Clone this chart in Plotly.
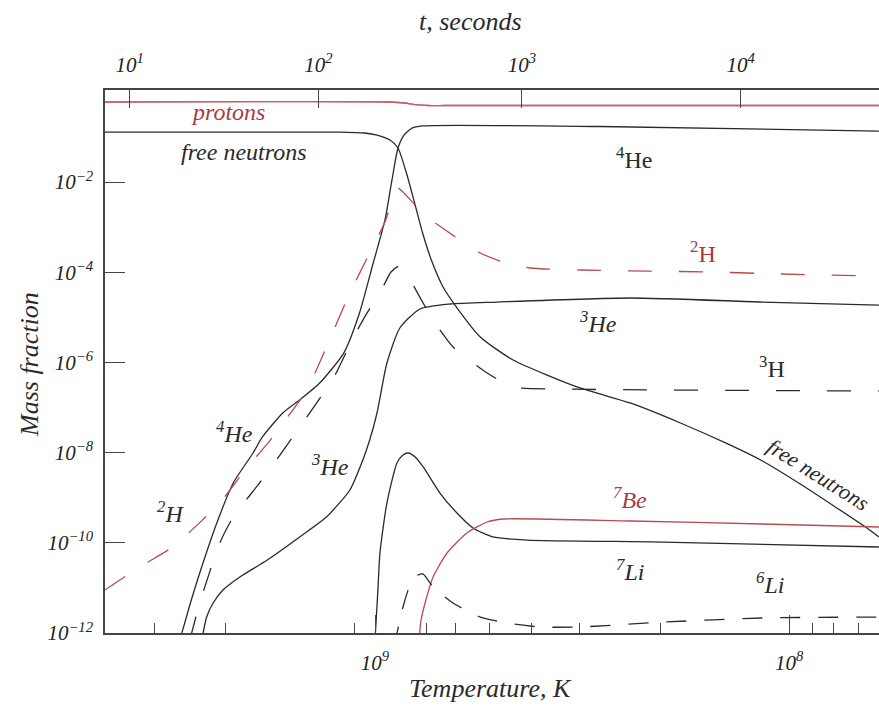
import plotly.graph_objects as go

# ---------------- data (temperature in K, mass fraction) ----------------
protons_T = [4.49e9, 9.2e8, 8.47e8, 8.0e8, 7.45e8, 6.78e8, 6.07e7]
protons_X = [0.594, 0.594, 0.565, 0.522, 0.497, 0.497, 0.497]

neutrons_T = [4.49e9, 1.22e9, 1.06e9, 9.89e8, 9.20e8, 8.80e8, 8.37e8, 8.00e8, 7.65e8, 7.28e8,
              6.85e8, 6.41e8, 5.57e8, 4.64e8, 3.20e8, 2.42e8, 1.83e8, 1.39e8, 1.16e8, 9.40e7,
              6.49e7, 6.07e7]
neutrons_X = [0.128, 0.128, 0.122, 0.110, 0.0853, 0.0567, 0.0143, 3.09e-3, 6.68e-4, 1.68e-4,
              4.70e-5, 1.87e-5, 3.66e-6, 1.13e-6, 2.71e-7, 1.26e-7, 4.53e-8, 1.48e-8, 6.52e-9, 2.01e-9,
              2.13e-10, 1.35e-10]

he4_T = [2.96e9, 2.80e9, 2.65e9, 2.41e9, 2.20e9, 1.97e9, 1.87e9, 1.67e9, 1.52e9, 1.36e9,
         1.19e9, 1.09e9, 1.01e9, 9.46e8, 9.10e8, 8.80e8, 8.51e8, 8.14e8, 7.69e8, 2.86e8, 6.07e7]
he4_X = [7e-13, 4.18e-12, 2.14e-11, 2.75e-10, 2.12e-9, 9.79e-9, 2.22e-8, 7.55e-8, 1.47e-7, 3.49e-7,
         1.61e-6, 1.25e-5, 1.60e-4, 1.44e-3, 0.0111, 0.0567, 0.110, 0.157, 0.175, 0.170, 0.135]

h2_T = [4.49e9, 3.70e9, 3.08e9, 2.58e9, 2.37e9, 2.06e9, 1.79e9, 1.60e9, 1.46e9, 1.31e9,
        1.15e9, 1.03e9, 9.46e8, 9.05e8, 8.80e8, 8.56e8, 8.00e8, 7.48e8, 6.34e8, 5.57e8,
        4.91e8, 4.23e8, 3.20e8, 2.20e8, 1.53e8, 1.05e8, 6.07e7]
h2_X = [8.97e-12, 2.91e-11, 8.07e-11, 3.55e-10, 7.62e-10, 4.11e-9, 1.90e-8, 7.55e-8, 2.44e-7, 2.19e-6,
        3.46e-5, 2.67e-4, 1.30e-3, 4.42e-3, 7.36e-3, 6.00e-3, 3.09e-3, 1.68e-3, 5.73e-4, 2.67e-4,
        1.68e-4, 1.24e-4, 1.12e-4, 1.06e-4, 1.01e-4, 9.12e-5, 8.24e-5]

h3_T = [2.80e9, 2.65e9, 2.37e9, 2.20e9, 1.90e9, 1.73e9, 1.52e9, 1.26e9, 1.13e9, 1.045e9,
        9.57e8, 9.15e8, 8.75e8, 8.41e8, 8.09e8, 7.24e8, 6.48e8, 5.36e8, 4.64e8, 3.57e8, 6.07e7]
h3_X = [7e-13, 4.62e-12, 9.91e-11, 3.73e-10, 2.12e-9, 6.86e-9, 3.70e-8, 4.51e-7, 3.48e-6, 1.25e-5,
        4.70e-5, 1.01e-4, 1.37e-4, 1.06e-4, 5.20e-5, 8.71e-6, 2.19e-6, 5.82e-7, 2.85e-7, 2.57e-7, 2.32e-7]

he3_T = [2.62e9, 2.55e9, 2.46e9, 2.33e9, 2.12e9, 1.82e9, 1.52e9, 1.31e9, 1.15e9, 1.07e9,
         1.03e9, 9.89e8, 9.36e8, 8.71e8, 7.79e8, 6.59e8, 5.07e8, 2.42e8, 1.16e8, 6.07e7]
he3_X = [7e-13, 2.26e-12, 4.62e-12, 8.97e-12, 1.75e-11, 4.16e-11, 1.35e-10, 3.73e-10, 1.48e-9, 6.86e-9,
         1.90e-8, 7.55e-8, 9.70e-7, 5.79e-6, 1.53e-5, 1.97e-5, 2.18e-5, 2.68e-5, 2.18e-5, 1.87e-5]

li7_T = [1.0e9, 9.84e8, 9.73e8, 9.36e8, 8.85e8, 8.56e8, 8.32e8, 8.00e8, 7.65e8, 6.97e8,
         6.34e8, 5.80e8, 5.19e8, 4.30e8, 2.01e8, 6.07e7]
li7_X = [7e-13, 8.97e-12, 5.94e-11, 7.62e-10, 5.88e-9, 8.85e-9, 9.79e-9, 7.98e-9, 4.80e-9, 1.27e-9,
         4.58e-10, 2.13e-10, 1.35e-10, 1.15e-10, 1.04e-10, 8.07e-11]

be7_T = [7.83e8, 7.74e8, 7.57e8, 7.24e8, 6.70e8, 6.00e8, 5.36e8, 4.91e8, 2.42e8, 1.16e8, 6.07e7]
be7_X = [7e-13, 1.94e-12, 4.62e-12, 1.75e-11, 5.94e-11, 1.65e-10, 2.89e-10, 3.37e-10, 3.04e-10, 2.61e-10, 2.24e-10]

li6_T = [8.99e8, 8.56e8, 8.14e8, 7.87e8, 7.65e8, 7.24e8, 6.48e8, 5.57e8, 4.80e8, 3.99e8,
         3.20e8, 2.01e8, 1.16e8, 6.07e7]
li6_X = [5e-13, 3.77e-12, 1.50e-11, 1.93e-11, 2.03e-11, 1.05e-11, 4.62e-12, 2.26e-12, 1.67e-12, 1.36e-12,
         1.36e-12, 1.75e-12, 2.15e-12, 2.26e-12]

# axis ticks
temp_major = [1e9, 1e8]
temp_major_text = ["10<sup>9</sup>", "10<sup>8</sup>"]
temp_minor = [3.4e9, 2.3e9, 1.12e9, 7.5e8, 6.4e8, 5.3e8, 4.2e8, 3.2e8, 2.05e8, 8.8e7, 7.8e7, 6.8e7, 6.1e7]
time_tick_T = [3.91e9, 1.37e9, 4.42e8, 1.31e8]
time_tick_text = ["10<sup>1</sup>", "10<sup>2</sup>", "10<sup>3</sup>", "10<sup>4</sup>"]
mass_ticks = [1e-2, 1e-4, 1e-6, 1e-8, 1e-10, 1e-12]
mass_tick_text = ["10<sup>−2</sup>", "10<sup>−4</sup>", "10<sup>−6</sup>", "10<sup>−8</sup>",
                  "10<sup>−10</sup>", "10<sup>−12</sup>"]

# ---------------- styling ----------------
BLACK = "#2a2a2a"
RED = "#b84a52"
PROTON_RED = "#c4606a"
LABEL_RED = "#a83a44"
FONT = "Liberation Serif"
W = 1.3

fig = go.Figure()

def add(T, X, color, dash="solid", width=W, xaxis="x"):
    fig.add_trace(go.Scatter(x=T, y=X, mode="lines", xaxis=xaxis,
                             line=dict(color=color, dash=dash, width=width, shape="spline", smoothing=0.6),
                             hoverinfo="skip", showlegend=False))

add(protons_T, protons_X, PROTON_RED)
add(neutrons_T, neutrons_X, BLACK)
add(he4_T, he4_X, BLACK)
add(h2_T, h2_X, RED, dash="24px,27px")
add(h3_T, h3_X, BLACK, dash="24px,27px")
add(he3_T, he3_X, BLACK)
add(li7_T, li7_X, BLACK)
add(be7_T, be7_X, RED)
add(li6_T, li6_X, BLACK, dash="20px,18px")
# protons drawn again on the time (top) axis, same scale, so that axis is rendered
add(protons_T, protons_X, PROTON_RED, xaxis="x2")

XR = [9.652, 7.783]
axis_font = dict(family=FONT, size=21, color="#222", style="italic")

fig.update_layout(
    width=879, height=707,
    margin=dict(l=105, r=0, t=90, b=74),
    paper_bgcolor="white", plot_bgcolor="white",
    showlegend=False,
    xaxis=dict(type="log", range=XR, showgrid=False, zeroline=False,
               showline=True, linecolor="#444", linewidth=1.5,
               ticks="inside", ticklen=18, tickwidth=1.2, tickcolor="#444",
               tickmode="array", tickvals=temp_major, ticktext=temp_major_text,
               tickfont=axis_font, ticklabelstandoff=10,
               minor=dict(tickmode="array", tickvals=temp_minor, ticks="inside",
                          ticklen=10, tickwidth=1.2, tickcolor="#444", showgrid=False)),
    xaxis2=dict(type="log", range=XR, overlaying="x", side="top", anchor="y",
                showgrid=False, zeroline=False,
                showline=True, linecolor="#444", linewidth=1.5,
                ticks="inside", ticklen=18, tickwidth=1.2, tickcolor="#444",
                tickmode="array", tickvals=time_tick_T, ticktext=time_tick_text,
                tickfont=axis_font, ticklabelstandoff=8),
    yaxis=dict(type="log", range=[-12, 0.04], showgrid=False, zeroline=False,
               showline=True, linecolor="#444", linewidth=1.5,
               ticks="inside", ticklen=20, tickwidth=1.2, tickcolor="#444",
               tickmode="array", tickvals=mass_ticks, ticktext=mass_tick_text,
               tickfont=axis_font, ticklabelstandoff=6),
)

def px(xp, yp):
    return (xp - 105) / 774, (633 - yp) / 543

def label(text, xp, yp, color=BLACK, size=24, italic=True, angle=0):
    x, y = px(xp, yp)
    fig.add_annotation(text=text, x=x, y=y, xref="paper", yref="paper", showarrow=False,
                       xanchor="center", yanchor="middle", textangle=angle,
                       font=dict(family=FONT, size=size, color=color,
                                 style="italic" if italic else "normal"))

label("protons", 228, 112, color=LABEL_RED)
label("free neutrons", 244, 152)
label("<sup>4</sup>He", 634, 158, italic=False)
label("<sup>2</sup>H", 703, 252, color=LABEL_RED, italic=False)
label("<sup>3</sup>He", 598, 322)
label("<sup>3</sup>H", 772, 367, italic=False)
label("<sup>4</sup>He", 234, 432)
label("<sup>3</sup>He", 330, 465)
label("<sup>2</sup>H", 170, 512)
label("<sup>7</sup>Be", 630, 498, color=LABEL_RED)
label("<sup>7</sup>Li", 630, 570)
label("<sup>6</sup>Li", 770, 583)
label("free neutrons", 818, 474, size=22, angle=32)

label("t, seconds", 470, 21, size=26)
label("Mass fraction", 30, 365, size=26, angle=-90)
label("Temperature, K", 490, 688, size=26)

# remove the page's default body margin so the 879x707 figure fills the window exactly
fig.write_html("out.html",
               config={"displayModeBar": False},
               post_script="document.body.style.margin='0px';"
                           "document.documentElement.style.overflow='hidden';")
